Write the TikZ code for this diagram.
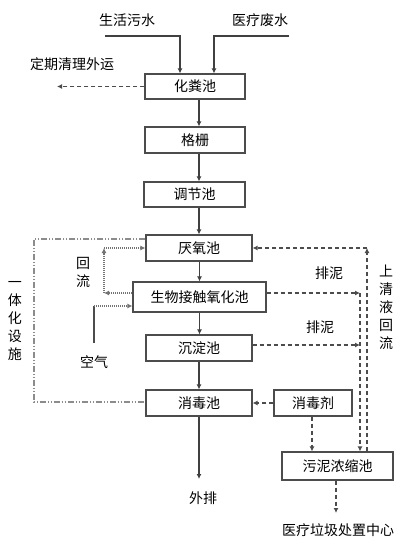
\documentclass[tikz,border=0pt]{standalone}
\usepackage{fontspec}
\setmainfont{Noto Sans CJK SC}
\usetikzlibrary{arrows.meta}
\begin{document}
\begin{tikzpicture}[x=1pt,y=-1pt,
 box/.style={draw=black!70, line width=1.2pt, minimum height=26pt, inner sep=0pt, font=\fontsize{14}{16}\selectfont},
 lbl/.style={inner sep=0pt, font=\fontsize{14}{16}\selectfont},
 vlbl/.style={inner sep=0pt, align=center, font=\fontsize{14}{18}\selectfont},
 tip/.style={-{Latex[length=5pt,width=5pt]}},
 flow/.style={draw=black!75, line width=1.1pt, tip},
 dsh/.style={draw=black!70, line width=1.2pt, dash pattern=on 4pt off 3pt},
 dot/.style={draw=black!55, line width=1.2pt, dash pattern=on 1pt off 1pt},
 dd/.style={draw=black!45, line width=1.2pt, dash pattern=on 6pt off 2pt on 1pt off 2pt on 1pt off 2pt}]
\useasboundingbox (0,0) rectangle (405,545);
% boxes
\node[box, minimum width=100pt, minimum height=25pt] (hfc) at (195,86.5) {化粪池};
\node[box, minimum width=100pt] (gs) at (195,140) {格栅};
\node[box, minimum width=101pt, minimum height=25pt] (tj) at (194.5,194.5) {调节池};
\node[box, minimum width=106pt] (yy) at (199,248) {厌氧池};
\node[box, minimum width=133pt, minimum height=30pt] (sw) at (199.5,297) {生物接触氧化池};
\node[box, minimum width=106pt] (cd) at (199,348) {沉淀池};
\node[box, minimum width=106pt] (xd) at (199,403) {消毒池};
\node[box, minimum width=78pt] (xdj) at (313,403) {消毒剂};
\node[box, minimum width=111pt, minimum height=28pt] (wn) at (337.5,466) {污泥浓缩池};
% labels
\node[lbl] (s1) at (127,20) {生活污水};
\node[lbl] (s2) at (260,20) {医疗废水};
\node[lbl] (out1) at (72,64) {定期清理外运};
\node[vlbl] (hl) at (83,272) {回\\流};
\node[vlbl] (yth) at (15,321) {一\\体\\化\\设\\施};
\node[vlbl] (sq) at (386,307.5) {上\\清\\液\\回\\流};
\node[lbl] (kq) at (94,362) {空气};
\node[lbl] (pn1) at (329,273) {排泥};
\node[lbl] (pn2) at (320,327) {排泥};
\node[lbl] (wp) at (203,498) {外排};
\node[lbl] (yl) at (338,530) {医疗垃圾处置中心};
% coordinates
\coordinate (a1) at (105,36);
\coordinate (a1c) at (180,36);
\coordinate (a2) at (289,36);
\coordinate (a2c) at (214,36);
\coordinate (o1) at (57,86.5);
\coordinate (wpe) at (199,479);
\coordinate (h1) at (104,293);
\coordinate (h2) at (104,248);
\coordinate (k1) at (94,343);
\coordinate (k2) at (94,306);
\coordinate (d1) at (34,239);
\coordinate (d2) at (34,402);
\coordinate (p1) at (360,293);
\coordinate (p2) at (360,345);
\coordinate (u1) at (367,248);
\coordinate (xx) at (312,0);
\coordinate (w1) at (336,513);
% inputs
\draw[flow] (a1) -- (a1c) -- (a1c |- hfc.north);
\draw[flow] (a2) -- (a2c) -- (a2c |- hfc.north);
\draw[dsh, tip] (hfc.west) -- (o1);
% main flow
\draw[flow] (hfc.south -| yy.north) -- (gs.north -| yy.north);
\draw[flow] (gs.south -| yy.north) -- (tj.north -| yy.north);
\draw[flow] (tj.south -| yy.north) -- (yy.north);
\draw[flow] (yy.south -| sw.north) -- (sw.north);
\draw[flow] (sw.south) -- (cd.north -| sw.south);
\draw[flow] (cd.south) -- (xd.north);
\draw[flow] (xd.south) -- (wpe);
% return loop
\draw[dot, tip] (h1 -| sw.west) -- (h1);
\draw[dot, tip] (h1) -- (h2);
\draw[dot, tip] (h2) -- (h2 -| yy.west);
% air
\draw[draw=black!70, line width=1.1pt] (k1) -- (k2);
\draw[dot, tip] (k2) -- (k2 -| sw.west);
% integrated facility
\draw[dd] (d1 -| yy.west) -- (d1) -- (d2) -- (d2 -| xd.west);
% sludge
\draw[dsh, tip] (p1 -| sw.east) -- (p1);
\draw[dsh, tip] (p2 -| cd.east) -- (p2);
\draw[dsh, tip] (p1) -- (p1 |- wn.north);
\draw[dsh, tip] (u1 |- wn.north) -- (u1);
\draw[dsh, tip] (u1) -- (u1 -| yy.east);
\draw[dsh, tip] (xdj.west) -- (xd.east);
\draw[dsh, tip] (xdj.south -| xx) -- (wn.north -| xx);
\draw[dsh, tip] (wn.south -| w1) -- (w1);
\end{tikzpicture}
\end{document}
